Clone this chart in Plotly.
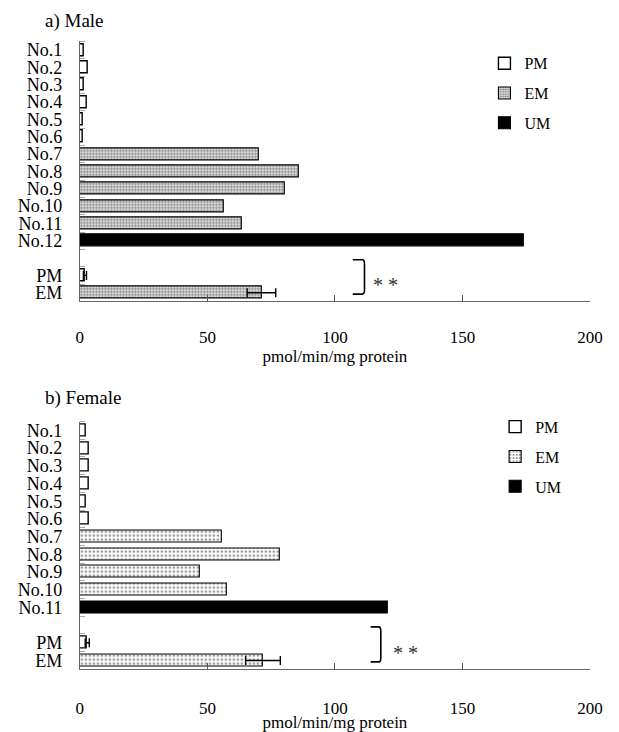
import plotly.graph_objects as go

# ---------------- data ----------------
male_labels = ["No.1", "No.2", "No.3", "No.4", "No.5", "No.6", "No.7", "No.8",
               "No.9", "No.10", "No.11", "No.12"]
male_values = [1.7, 3.2, 1.7, 2.9, 1.3, 1.3, 70.0, 86.0, 80.3, 56.5, 63.7, 174.0]
male_types = ["PM", "PM", "PM", "PM", "PM", "PM", "EM", "EM", "EM", "EM", "EM", "UM"]
male_group_labels = ["PM", "EM"]
male_group_means = [2.0, 71.2]
male_group_sd = [0.6, 5.6]

female_labels = ["No.1", "No.2", "No.3", "No.4", "No.5", "No.6", "No.7", "No.8",
                 "No.9", "No.10", "No.11"]
female_values = [2.5, 3.5, 3.5, 3.5, 2.5, 3.5, 55.6, 78.5, 47.0, 57.8, 120.8]
female_types = ["PM", "PM", "PM", "PM", "PM", "PM", "EM", "EM", "EM", "EM", "UM"]
female_group_labels = ["PM", "EM"]
female_group_means = [2.9, 71.8]
female_group_sd = [0.8, 6.8]

x_ticks = [0, 50, 100, 150, 200]
x_title = "pmol/min/mg protein"
panel_titles = ["a) Male", "b) Female"]
signif_text = "* *"

FONT = "Liberation Serif, Times New Roman, serif"
W, H = 619, 732

fig = go.Figure()


def px_x(p):
    return p / W


def px_y(p):
    return 1 - p / H


def add_panel(idx, labels, values, types, glabels, gmeans, gsd, em_pattern,
              xdom, ydom, legend_name, legend_pos, bracket_x, star_x,
              tick_standoff, title_standoff):
    xa = "x" if idx == 1 else "x2"
    ya = "y" if idx == 1 else "y2"
    n = len(labels)
    ind_pos = list(range(n))
    grp_pos = [n + 1 + k for k in range(len(glabels))]
    styles = {
        "PM": dict(color="white", line=dict(color="black", width=1.4)),
        "EM": dict(color="white", line=dict(color="black", width=1.1), pattern=em_pattern),
        "UM": dict(color="black", line=dict(color="black", width=1.1)),
    }
    for k, t in enumerate(["PM", "EM", "UM"]):
        xs = [v for v, tt in zip(values, types) if tt == t]
        ys = [p for p, tt in zip(ind_pos, types) if tt == t]
        fig.add_trace(go.Bar(
            x=xs, y=ys, orientation="h", name=t, marker=styles[t], width=0.68,
            xaxis=xa, yaxis=ya, legend=legend_name, legendgroup=f"{legend_name}{t}",
            showlegend=True))
    for gl, gm, gs, gp in zip(glabels, gmeans, gsd, grp_pos):
        fig.add_trace(go.Bar(
            x=[gm], y=[gp], orientation="h", name=gl, marker=styles[gl], width=0.68,
            error_x=dict(type="data", array=[gs], color="black", thickness=1.4, width=4.5),
            xaxis=xa, yaxis=ya, legend=legend_name, showlegend=False))
    tickvals = ind_pos + grp_pos
    ticktext = labels + glabels
    fig.layout[("xaxis" if idx == 1 else "xaxis2")] = dict(
        domain=xdom, anchor=ya, range=[0, 200], tickvals=x_ticks,
        ticks="inside", ticklen=6, tickcolor="#555", tickwidth=1,
        showline=True, linecolor="#666", linewidth=1, showgrid=False, zeroline=False,
        tickfont=dict(family=FONT, size=17, color="black"), ticklabelstandoff=tick_standoff,
        title=dict(text=x_title, font=dict(family=FONT, size=17, color="black"),
                   standoff=title_standoff),
        fixedrange=True)
    nslots = n + 1 + len(glabels)
    fig.layout[("yaxis" if idx == 1 else "yaxis2")] = dict(
        domain=ydom, anchor=xa, range=[nslots - 0.5, -0.5], tickvals=tickvals,
        ticktext=ticktext, ticks="", showline=True, linecolor="#666", linewidth=1,
        showgrid=False, zeroline=False, ticklabelstandoff=13,
        tickfont=dict(family=FONT, size=18, color="black"),
        minor=dict(tickvals=[p - 0.5 for p in range(nslots)], ticks="inside",
                   ticklen=5, tickcolor="#aaa", tickwidth=1),
        fixedrange=True)
    em_pos = grp_pos[-1]
    y_top = em_pos - 1.9
    y_bot = em_pos + 0.08
    bx0, bx1 = bracket_x
    r = 0.25
    path = (f"M {bx0},{y_top} L {bx1 - 0.8},{y_top} Q {bx1},{y_top} {bx1},{y_top + r} "
            f"L {bx1},{y_bot - r} Q {bx1},{y_bot} {bx1 - 0.8},{y_bot} L {bx0},{y_bot}")
    fig.add_shape(type="path", path=path, xref=xa, yref=ya,
                  line=dict(color="black", width=1.6))
    fig.add_annotation(x=star_x, y=em_pos - 0.72, xref=xa, yref=ya, text=signif_text,
                       showarrow=False, yshift=-5,
                       font=dict(family=FONT, size=20, color="#333"))
    fig.layout[legend_name] = dict(
        x=legend_pos[0], y=legend_pos[1], xanchor="left", yanchor="top",
        bgcolor="rgba(0,0,0,0)", tracegroupgap=6, itemwidth=30,
        font=dict(family=FONT, size=16, color="black"))


add_panel(1, male_labels, male_values, male_types, male_group_labels, male_group_means,
          male_group_sd,
          dict(shape=".", size=3, solidity=0.6, fgcolor="#111", bgcolor="white"),
          [px_x(78), px_x(602.5)], [px_y(305), px_y(41)], "legend",
          (px_x(494), px_y(46)), (107, 111.6), 120, 20, 4)
add_panel(2, female_labels, female_values, female_types, female_group_labels,
          female_group_means, female_group_sd,
          dict(shape=".", size=4, solidity=0.35, fgcolor="#333", bgcolor="white"),
          [px_x(78), px_x(602.5)], [px_y(678.5), px_y(427)], "legend2",
          (px_x(505), px_y(415)), (114, 118), 127.5, 23, 2)

for t, yp in zip(panel_titles, [20, 403]):
    fig.add_annotation(x=px_x(40), y=px_y(yp), xref="paper", yref="paper", text=t,
                       showarrow=False, xanchor="left", yanchor="middle",
                       font=dict(family=FONT, size=19, color="black"))

fig.update_layout(width=W, height=H, margin=dict(l=0, r=0, t=0, b=0),
                  paper_bgcolor="white", plot_bgcolor="white", barmode="overlay",
                  bargap=0)

fig.write_html("out.html")
